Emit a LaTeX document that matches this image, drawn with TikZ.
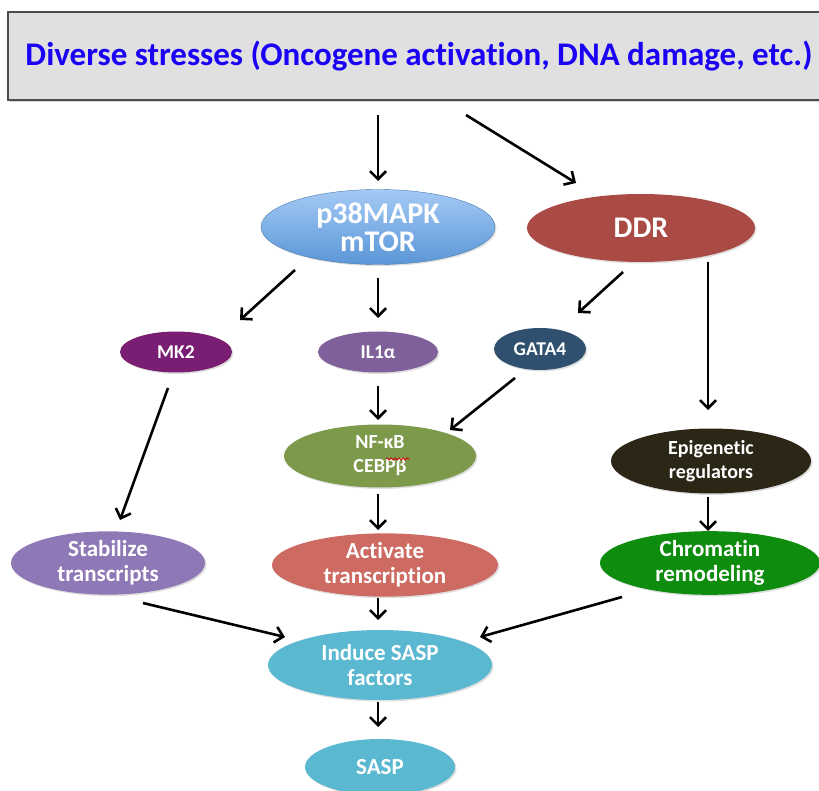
\documentclass[tikz,border=0pt]{standalone}
\usepackage{fontspec}
\setmainfont{Carlito}[Ligatures=NoCommon]
\usetikzlibrary{arrows.meta,shapes.geometric,shadows,decorations.pathmorphing}
\definecolor{topblue}{RGB}{26,0,245}
\definecolor{boxgray}{RGB}{224,224,224}
\definecolor{ddrred}{RGB}{169,74,68}
\definecolor{mkpurple}{RGB}{122,30,116}
\definecolor{ilpurple}{RGB}{128,96,155}
\definecolor{gatablue}{RGB}{48,80,112}
\definecolor{nfgreen}{RGB}{125,154,74}
\definecolor{epibrown}{RGB}{44,38,23}
\definecolor{stablav}{RGB}{142,120,181}
\definecolor{actred}{RGB}{205,106,98}
\definecolor{chromgreen}{RGB}{13,140,13}
\definecolor{sasp}{RGB}{90,184,208}
\definecolor{ptop}{RGB}{165,202,245}
\definecolor{pbot}{RGB}{90,150,215}
\begin{document}
\begin{tikzpicture}[x=1pt,y=-1pt,
  el/.style 2 args={ellipse, inner sep=0pt, text=white, align=center,
    minimum width=#1pt, minimum height=#2pt,
    drop shadow={opacity=0.25, shadow xshift=1.5pt, shadow yshift=-1.5pt}},
  arr/.style={line width=2.6pt, -{Straight Barb[length=8pt,width=16pt]}},
  big/.style={font=\fontsize{30}{28}\selectfont\bfseries},
  mid/.style={font=\fontsize{23}{25}\selectfont\bfseries},
  sml/.style={font=\fontsize{20}{24}\selectfont\bfseries},
  tiny/.style={font=\fontsize{19.5}{22}\selectfont\bfseries}]
\useasboundingbox (0,0) rectangle (819,791);

\node[draw=gray!60!black, line width=1.5pt, fill=boxgray, minimum width=822pt,
  minimum height=88pt, inner sep=0pt, text=topblue,
  font=\fontsize{33}{38}\selectfont\bfseries,
  drop shadow={opacity=0.35, shadow xshift=2pt, shadow yshift=-2pt}]
  (top) at (419,56) {Diverse stresses (Oncogene activation, DNA damage, etc.)};

\node[el={234}{75}, big, top color=ptop, bottom color=pbot, draw=pbot!80!black, line width=0.4pt] (p38) at (378,227) {p38MAPK\\mTOR};
\node[el={228}{68}, big, fill=ddrred] (ddr) at (641,228) {DDR};
\node[el={112}{41}, tiny, fill=mkpurple] (mk2) at (176,352) {MK2};
\node[el={120}{41}, tiny, fill=ilpurple] (il1) at (378,352) {IL1α};
\node[el={92}{42}, tiny, fill=gatablue] (gata) at (540,349) {GATA4};
\node[el={192}{63}, sml, fill=nfgreen] (nf) at (380,456) {NF-κB\\CEBPβ};
\node[el={200}{65}, sml, fill=epibrown] (epi) at (711,461) {Epigenetic\\regulators};
\node[el={194}{56}, mid, fill=stablav] (stab) at (108,563) {Stabilize\\transcripts};
\node[el={226}{58}, mid, fill=actred] (act) at (385,565) {Activate\\transcription};
\node[el={220}{54}, mid, fill=chromgreen] (chrom) at (710,563) {Chromatin\\remodeling};
\node[el={224}{70}, mid, fill=sasp] (ind) at (380,665) {Induce SASP\\factors};
\node[el={150}{56}, mid, fill=sasp] (saspn) at (380,767) {SASP};

\draw[red!80!black, line width=0.8pt, decorate,
  decoration={snake, amplitude=1pt, segment length=4pt}]
  ([shift={(6,3)}]nf.center) -- ([shift={(30,3)}]nf.center);

\draw[arr] ([shift={(-41,59)}]top.center) -- ([shift={(0,-46)}]p38.center);
\draw[arr] ([shift={(47,59)}]top.center) -- ([shift={(-65,-45)}]ddr.center);
\draw[arr] ([shift={(-83,43)}]p38.center) -- ([shift={(64,-32)}]mk2.center);
\draw[arr] ([shift={(0,51)}]p38.center) -- ([shift={(0,-34)}]il1.center);
\draw[arr] ([shift={(-18,44)}]ddr.center) -- ([shift={(38,-36)}]gata.center);
\draw[arr] ([shift={(67,34)}]ddr.center) -- ([shift={(-3,-51)}]epi.center);
\draw[arr] ([shift={(-25,29)}]gata.center) -- ([shift={(70,-26)}]nf.center);
\draw[arr] ([shift={(0,34)}]il1.center) -- ([shift={(-2,-36)}]nf.center);
\draw[arr] ([shift={(-8,36)}]mk2.center) -- ([shift={(12,-43)}]stab.center);
\draw[arr] ([shift={(-2,38)}]nf.center) -- ([shift={(-7,-35)}]act.center);
\draw[arr] ([shift={(-3,36)}]epi.center) -- ([shift={(-2,-32)}]chrom.center);
\draw[arr] ([shift={(35,40)}]stab.center) -- ([shift={(-95,-28)}]ind.center);
\draw[arr] ([shift={(-7,33)}]act.center) -- ([shift={(-2,-45)}]ind.center);
\draw[arr] ([shift={(-88,34)}]chrom.center) -- ([shift={(100,-28)}]ind.center);
\draw[arr] ([shift={(-2,37)}]ind.center) -- ([shift={(-2,-40)}]saspn.center);
\end{tikzpicture}
\end{document}
